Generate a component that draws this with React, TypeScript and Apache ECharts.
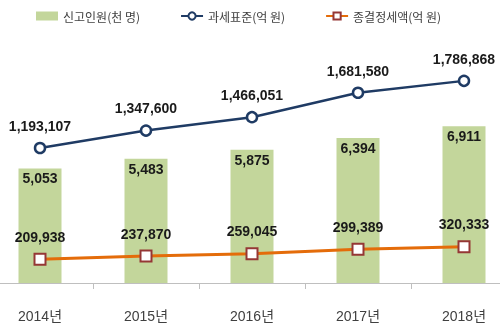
import React, { useEffect, useRef } from "react";
import * as echarts from "echarts";

const categories = ["2014년", "2015년", "2016년", "2017년", "2018년"];
const filers = [5053, 5483, 5875, 6394, 6911];
const taxBase = [1193107, 1347600, 1466051, 1681580, 1786868];
const finalTax = [209938, 237870, 259045, 299389, 320333];
const seriesNames = ["신고인원(천 명)", "과세표준(억 원)", "종결정세액(억 원)"];

const fmt = (v: number) => v.toLocaleString("en-US");
const FONT = "'Liberation Sans', Arial, 'Noto Sans CJK KR', sans-serif";

export default function App() {
  const ref = useRef<HTMLDivElement>(null);
  useEffect(() => {
    if (!ref.current) return;
    const chart = echarts.init(ref.current, undefined, { renderer: "svg" });
    chart.setOption({
      animation: false,
      textStyle: { fontFamily: FONT },
      legend: {
        top: 5,
        left: 44,
        itemGap: 40,
        itemWidth: 22,
        itemHeight: 9,
        textStyle: { fontSize: 12, color: "#404040", fontFamily: "'Noto Sans CJK KR', sans-serif" },
        data: [
          { name: seriesNames[0], icon: "rect", itemStyle: { color: "#c3d69b" } },
          { name: seriesNames[1] },
          { name: seriesNames[2] },
        ],
      },
      grid: { left: 0, right: 0, top: 20, bottom: 50, containLabel: false },
      xAxis: {
        type: "category",
        data: categories,
        boundaryGap: true,
        axisLine: { lineStyle: { color: "#bfbfbf", width: 1 } },
        axisTick: { show: true, length: 6, lineStyle: { color: "#bfbfbf" } },
        axisLabel: { margin: 26, fontSize: 14, color: "#404040", fontFamily: FONT },
      },
      yAxis: [
        { type: "value", min: 0, max: 11600, show: false, splitLine: { show: false } },
        { type: "value", min: 0, max: 2325000, show: false, splitLine: { show: false } },
      ],
      series: [
        {
          name: seriesNames[0],
          type: "bar",
          yAxisIndex: 0,
          data: filers,
          barWidth: 43,
          itemStyle: { color: "#c3d69b" },
          label: {
            show: true,
            position: "insideTop",
            distance: 3,
            formatter: (p: any) => fmt(p.value),
            fontSize: 14,
            fontWeight: "bold",
            color: "#1a1a1a",
            fontFamily: FONT,
          },
        },
        {
          name: seriesNames[1],
          type: "line",
          yAxisIndex: 1,
          data: taxBase,
          symbol: "circle",
          symbolSize: 10,
          lineStyle: { color: "#1f3b64", width: 2.5 },
          itemStyle: { color: "#ffffff", borderColor: "#1f3b64", borderWidth: 2.5 },
          label: {
            show: true,
            position: "top",
            distance: 9,
            formatter: (p: any) => fmt(p.value),
            fontSize: 14,
            fontWeight: "bold",
            color: "#1a1a1a",
            fontFamily: FONT,
          },
          z: 5,
        },
        {
          name: seriesNames[2],
          type: "line",
          yAxisIndex: 1,
          data: finalTax,
          symbol: "rect",
          symbolSize: 11,
          lineStyle: { color: "#e46c0a", width: 3 },
          itemStyle: { color: "#ffffff", borderColor: "#953735", borderWidth: 2 },
          label: {
            show: true,
            position: "top",
            distance: 9,
            formatter: (p: any) => fmt(p.value),
            fontSize: 14,
            fontWeight: "bold",
            color: "#1a1a1a",
            fontFamily: FONT,
          },
          z: 5,
        },
      ],
    });
    return () => chart.dispose();
  }, []);
  return (
    <div style={{ width: 500, height: 333, position: "fixed", left: 0, top: 0, overflow: "hidden" }}>
      <div ref={ref} style={{ width: 530, height: 333, position: "absolute", left: -13, top: 0 }} />
    </div>
  );
}
